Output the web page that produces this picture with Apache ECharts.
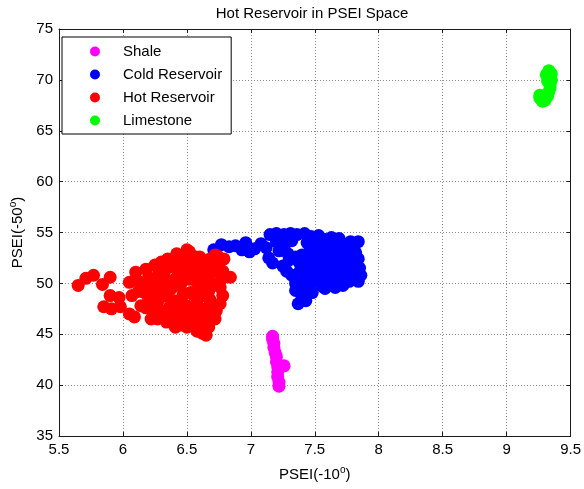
<!DOCTYPE html>
<html>
<head>
<meta charset="utf-8">
<script src="https://cdn.jsdelivr.net/npm/echarts@6/dist/echarts.min.js"></script>
<style>
html,body{margin:0;padding:0;background:#fff;}
#chart{width:584px;height:489px;}
</style>
</head>
<body>
<div id="chart"></div>
<script>
const titleText = 'Hot Reservoir in PSEI Space';
const seriesNames = ['Shale', 'Cold Reservoir', 'Hot Reservoir', 'Limestone'];
const seriesColors = ['#ff00ff', '#0000ff', '#ff0000', '#00ff00'];

const shale = [
  [7.17,44.8],[7.17,44.5],[7.18,44.1],[7.18,43.7],[7.19,43.2],[7.2,42.8],[7.2,42.3],
  [7.21,41.8],[7.26,41.9],[7.21,41.3],[7.21,40.8],[7.22,40.3],[7.22,39.9]
];

const coldReservoir = [
  [6.71,53.3],[6.77,53.8],[6.83,53.6],[6.88,53.7],[6.93,53.3],[6.96,54.0],[6.99,53.1],[7.03,53.4],
  [7.08,53.9],[7.12,53.5],[7.14,52.5],[7.17,52.0],
  [7.15,54.8],[7.2,54.9],[7.26,54.8],[7.31,54.9],[7.36,54.8],[7.42,54.9],[7.47,54.6],[7.53,54.7],
  [7.58,54.3],[7.63,54.5],[7.69,54.4],[7.78,54.1],[7.84,54.1],
  [7.2,54.1],[7.27,53.9],[7.32,54.2],[7.44,54.0],[7.5,54.2],[7.56,53.8],[7.62,53.6],[7.7,53.7],[7.76,53.2],
  [7.22,53.2],[7.29,52.9],[7.46,53.2],[7.52,52.9],[7.6,53.0],[7.68,52.8],[7.75,52.6],[7.84,52.4],
  [7.25,51.7],[7.3,52.3],[7.38,52.0],[7.44,52.4],[7.5,51.9],[7.57,52.2],[7.64,51.8],[7.7,52.1],[7.78,51.6],[7.85,51.5],
  [7.32,50.8],[7.38,51.1],[7.45,50.7],[7.52,51.2],[7.58,50.8],[7.65,51.0],[7.72,50.6],[7.8,50.9],[7.86,50.8],
  [7.35,50.0],[7.42,49.8],[7.5,50.2],[7.56,49.7],[7.62,50.0],[7.7,49.9],[7.77,50.2],[7.84,50.2],
  [7.35,49.3],[7.4,48.7],[7.37,48.0],[7.43,48.3],[7.48,49.1],[7.58,49.5],[7.66,49.6],[7.72,49.8],
  [7.4,51.5],[7.48,51.4],[7.55,51.5],[7.62,51.4],[7.7,51.3],[7.8,51.3],[7.76,52.4],[7.82,53.0],
  [7.42,50.4],[7.44,49.5],[7.64,50.5],[7.73,51.2],[7.25,53.5],[7.8,53.6],[7.66,53.2],[7.54,53.4],
  [7.35,52.6],[7.4,52.8],[7.28,51.2],[7.55,50.4],[7.6,52.6]
];

const hotReservoir = [
  [5.65,49.8],[5.71,50.5],[5.77,50.8],[5.84,49.9],[5.9,50.6],
  [5.85,47.7],[5.91,47.5],[5.9,48.8],[5.98,47.7],[6.05,47.0],
  [5.97,48.6],[6.07,48.8],[6.12,49.2],[6.17,49.1],[6.23,48.8],
  [6.05,50.1],[6.1,51.1],[6.18,51.4],[6.25,51.8],[6.3,52.1],[6.35,52.4],[6.42,52.9],[6.5,53.3],
  [6.52,53.1],[6.45,52.6],[6.38,52.2],
  [6.09,46.7],[6.14,47.8],[6.22,46.5],[6.27,46.5],[6.34,46.2],[6.41,45.7],[6.5,45.7],[6.58,45.3],
  [6.65,44.9],[6.62,45.1],
  [6.18,47.6],[6.25,47.5],[6.3,47.3],[6.36,47.6],[6.42,47.2],[6.48,46.8],[6.55,46.4],[6.6,46.2],[6.67,45.7],
  [6.2,48.3],[6.28,48.4],[6.35,48.7],[6.4,48.3],[6.45,48.0],[6.5,47.8],[6.56,47.5],[6.62,47.2],[6.68,46.8],
  [6.12,50.2],[6.2,50.6],[6.28,51.0],[6.33,51.3],[6.4,51.6],[6.46,52.0],[6.5,52.4],
  [6.22,49.7],[6.3,50.0],[6.35,50.3],[6.42,50.6],[6.48,51.1],[6.55,51.75],[6.62,52.1],[6.57,52.6],
  [6.38,49.5],[6.45,49.8],[6.52,50.4],[6.58,50.1],[6.53,49.1],[6.47,48.9],
  [6.68,52.4],[6.68,51.6],[6.67,50.8],[6.68,50.0],[6.67,49.2],[6.68,48.4],[6.66,47.6],[6.66,46.6],[6.63,45.8],
  [6.74,52.7],[6.75,51.9],[6.78,51.2],[6.77,50.4],[6.76,49.6],[6.78,48.8],[6.76,48.0],[6.73,47.3],[6.72,46.5],
  [6.84,50.6],[6.79,52.4],[6.72,52.8],
  [6.6,51.2],[6.62,50.6],[6.6,49.6],[6.62,48.8],[6.58,48.2],[6.55,48.9],[6.56,50.8],
  [6.43,46.5],[6.37,46.9],[6.5,46.3],[6.45,45.9],
  [6.15,49.9],[6.27,49.4],[6.33,49.0],[6.25,50.3],[6.4,50.0],[6.45,50.9],[6.52,51.6],
  [6.4,47.9],[6.3,46.8],[6.52,47.1],[6.58,46.9],[6.7,47.0],[6.72,49.9],[6.72,51.2],[6.6,52.6]
];

const limestone = [
  [9.33,70.9],[9.35,70.6],[9.34,70.3],[9.35,70.0],[9.34,69.6],[9.34,69.2],[9.33,68.8],
  [9.32,68.4],[9.3,68.0],[9.28,67.9],[9.26,68.2],[9.26,68.5],[9.31,70.5],[9.32,69.9]
];

const xMin = 5.5, xMax = 9.5, xStep = 0.5;
const yMin = 35, yMax = 75, yStep = 5;

const allData = [shale, coldReservoir, hotReservoir, limestone];
const FONT = 'Liberation Sans, Arial, sans-serif';
const axisColor = '#1a1a1a';

const chart = echarts.init(document.getElementById('chart'), null, {renderer: 'canvas'});

chart.setOption({
  animation: false,
  backgroundColor: '#fff',
  title: {
    text: titleText,
    left: 307, top: 1, textAlign: 'center',
    textStyle: {fontFamily: FONT, fontSize: 15, fontWeight: 'normal', color: '#000'}
  },
  legend: {
    orient: 'vertical',
    left: 62, top: 37,
    padding: [7, 9, 6, 28],
    itemWidth: 10, itemHeight: 10, itemGap: 8,
    icon: 'circle',
    borderColor: '#000', borderWidth: 1, backgroundColor: '#fff',
    textStyle: {fontFamily: FONT, fontSize: 15, color: '#000', padding: [0, 0, 0, 18]},
    data: seriesNames
  },
  grid: {left: 52, right: 11, top: 29, bottom: 53, containLabel: false},
  xAxis: [
    {
      type: 'value', position: 'bottom',
      min: xMin, max: xMax, interval: xStep,
      name: '{a|PSEI(-10}{s|o}{a|)}', nameLocation: 'middle', nameGap: 29,
      nameTextStyle: {rich: {
        a: {fontFamily: FONT, fontSize: 15, color: '#000'},
        s: {fontFamily: FONT, fontSize: 10, color: '#000', padding: [0, 0, 9, 0]}
      }},
      axisLine: {show: true, onZero: false, lineStyle: {color: axisColor}},
      axisTick: {show: true, inside: true, length: 4, lineStyle: {color: axisColor}},
      axisLabel: {show: true, margin: 6, fontFamily: FONT, fontSize: 15, color: '#000',
        formatter: v => String(v)},
      splitLine: {show: true, lineStyle: {color: '#8c8c8c', type: [1, 2], width: 1}}
    },
    {
      type: 'value', position: 'top',
      min: xMin, max: xMax, interval: xStep,
      axisLine: {show: true, onZero: false, lineStyle: {color: axisColor}},
      axisTick: {show: true, inside: true, length: 4, lineStyle: {color: axisColor}},
      axisLabel: {show: false},
      splitLine: {show: false}
    }
  ],
  yAxis: [
    {
      type: 'value', position: 'left',
      min: yMin, max: yMax, interval: yStep,
      name: '{a|PSEI(-50}{s|o}{a|)}', nameLocation: 'middle', nameGap: 32, nameRotate: 90,
      nameTextStyle: {rich: {
        a: {fontFamily: FONT, fontSize: 15, color: '#000'},
        s: {fontFamily: FONT, fontSize: 10, color: '#000', padding: [0, 0, 9, 0]}
      }},
      axisLine: {show: true, onZero: false, lineStyle: {color: axisColor}},
      axisTick: {show: true, inside: true, length: 4, lineStyle: {color: axisColor}},
      axisLabel: {show: true, margin: 6, fontFamily: FONT, fontSize: 15, color: '#000'},
      splitLine: {show: true, lineStyle: {color: '#8c8c8c', type: [1, 2], width: 1}}
    },
    {
      type: 'value', position: 'right',
      min: yMin, max: yMax, interval: yStep,
      axisLine: {show: true, onZero: false, lineStyle: {color: axisColor}},
      axisTick: {show: true, inside: true, length: 4, lineStyle: {color: axisColor}},
      axisLabel: {show: false},
      splitLine: {show: false}
    }
  ],
  series: seriesNames.map((name, i) => ({
    name: name,
    type: 'scatter',
    xAxisIndex: 0, yAxisIndex: 0,
    symbol: 'circle',
    symbolSize: 13,
    itemStyle: {color: seriesColors[i], opacity: 1},
    emphasis: {disabled: true},
    data: allData[i]
  }))
});
</script>
</body>
</html>
